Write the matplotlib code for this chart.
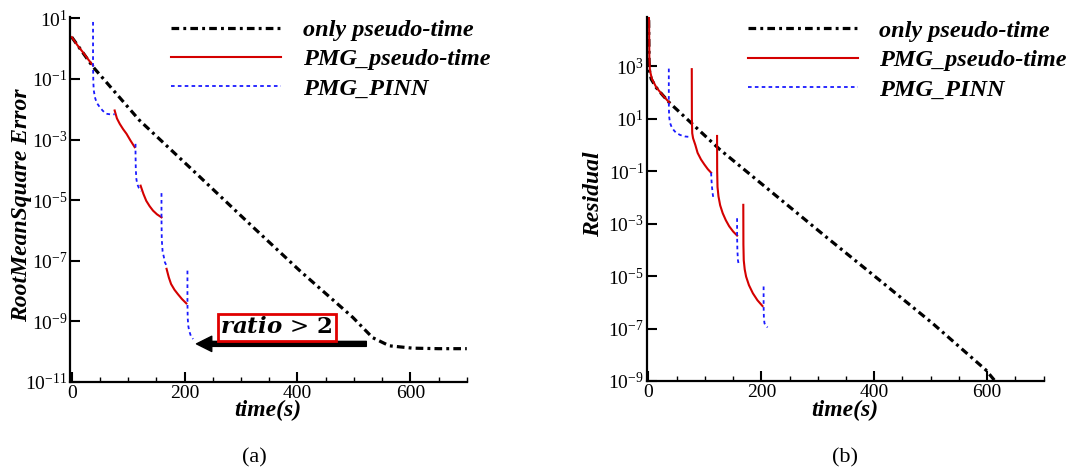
import matplotlib
matplotlib.use('Agg')
import matplotlib.pyplot as plt
import numpy as np
from matplotlib.ticker import FixedLocator, MultipleLocator, NullLocator, LogFormatterSciNotation

plt.rcParams['font.family'] = ['Liberation Serif', 'DejaVu Serif']
plt.rcParams['mathtext.fontset'] = 'stix'

nan = np.nan

# (a) RootMeanSquare Error
t_only_a = [0, 37.7, 120, 215, 309, 404, 498, 533, 563, 604, 650, 700]
e_only_a = [2.4, 0.25, 4.3e-3, 9.5e-5, 2.1e-6, 4.7e-8, 1.35e-9, 2.9e-10, 1.55e-10, 1.3e-10, 1.25e-10, 1.25e-10]

t_pmg_a = [0, 10, 20, 30, 37.7, nan,
           76, 80, 85, 91, 97, 104, 111.5, nan,
           122, 127, 132, 138, 144, 151, 159, nan,
           168, 172, 176, 182, 188, 195, 203]
e_pmg_a = [2.4, 1.3, 0.75, 0.42, 0.28, nan,
           9.1e-3, 5.0e-3, 3.3e-3, 2.2e-3, 1.55e-3, 9.3e-4, 5.6e-4, nan,
           3.0e-5, 1.6e-5, 9.5e-6, 6.3e-6, 4.5e-6, 3.4e-6, 2.7e-6, nan,
           5.4e-8, 2.8e-8, 1.7e-8, 1.1e-8, 7.9e-9, 5.5e-9, 3.9e-9]

t_pinn_a = [37.7, 37.7, 38.2, 39, 41, 44, 49.6, 55, 61, 68, 76, nan,
            113, 113, 113.5, 114.5, 116, 119, 123, nan,
            159, 159, 159.5, 161, 163.3, 165, 168, nan,
            205, 205, 205.5, 206.5, 208, 211, 215]
e_pinn_a = [7.6, 0.28, 0.08, 0.042, 0.025, 0.0166, 0.0117, 8.9e-3, 7.1e-3, 6.8e-3, 6.8e-3, nan,
            7.2e-4, 3.2e-4, 1e-4, 5e-5, 3.4e-5, 2.5e-5, 2.0e-5, nan,
            1.7e-5, 2.5e-6, 5e-7, 2e-7, 1.3e-7, 8.9e-8, 6.8e-8, nan,
            4.7e-8, 3.9e-9, 1.26e-9, 7.1e-10, 4.9e-10, 3.3e-10, 2.6e-10]

# (b) Residual
t_only_b = [0, 0.5, 1, 2, 5, 13.6, 25, 37, 126, 220, 314, 409, 503, 598, 620]
r_only_b = [3e5, 1.6e4, 1.6e3, 630, 320, 155, 80, 41, 0.68, 0.0148, 3.2e-4, 7.1e-6, 1.6e-7, 2.6e-9, 7e-10]

t_pmg_b = [0, 1, 1.5, 2.5, 6, 14, 25, 37, nan,
           76.7, 76.9, 77.5, 79, 83, 87, 93, 99, 105, 111, nan,
           121.5, 121.7, 122.3, 124, 127, 131.5, 137, 143, 150, 157, nan,
           168, 168.2, 168.8, 170.5, 173, 178, 185, 193, 202]
r_pmg_b = [3e5, 5e4, 2e3, 700, 330, 155, 80, 41, nan,
           776, 10, 2.8, 1.8, 1.0, 0.5, 0.28, 0.18, 0.12, 0.087, nan,
           2.2, 0.1, 0.025, 0.011, 5e-3, 2.5e-3, 1.35e-3, 7.9e-4, 5e-4, 3.5e-4, nan,
           5.2e-3, 1.6e-4, 4e-5, 1.8e-5, 9.5e-6, 4.5e-6, 2.2e-6, 1.2e-6, 7.2e-7]

t_pinn_b = [36, 36, 36.5, 38, 41, 45, 49, 56, 65, 75.5, nan,
            111, 111.5, 112.5, 114, 115, nan,
            157, 157, 157.5, 158.5, 160, nan,
            204, 204, 204.5, 205.5, 207, 211]
r_pinn_b = [813, 40, 12.6, 7.1, 4.8, 3.6, 2.9, 2.4, 2.1, 2.0, nan,
            0.087, 0.05, 0.025, 0.0126, 9.5e-3, nan,
            1.6e-3, 3.5e-4, 1e-4, 4e-5, 2.7e-5, nan,
            4e-6, 7.2e-7, 2.5e-7, 1.6e-7, 1.35e-7, 1.1e-7]

labels = ['only pseudo-time', 'PMG_pseudo-time', 'PMG_PINN']
yticks_a = [1e1, 1e-1, 1e-3, 1e-5, 1e-7, 1e-9, 1e-11]
yticks_b = [1e3, 1e1, 1e-1, 1e-3, 1e-5, 1e-7, 1e-9]

fig = plt.figure(figsize=(10.78, 4.75), dpi=100)
ax1 = fig.add_axes([0.065, 0.196, 0.368, 0.768])
ax2 = fig.add_axes([0.600, 0.198, 0.368, 0.766])

lab_font = dict(family='Liberation Serif', fontweight='bold', fontstyle='italic', fontsize=17)


def draw(ax, t0, y0, t1, y1, t2, y2, yticks, ylim, leg_anchor):
    ax.plot(t0, y0, color='black', lw=2.3, linestyle=(0, (2.4, 1.3, 0.9, 1.3)), label=labels[0])
    ax.plot(t1, y1, color='#d40000', lw=1.5, label=labels[1])
    ax.plot(t2, y2, color='#1a1aff', lw=1.3, linestyle=(0, (2.0, 1.8)), label=labels[2])
    ax.set_yscale('log')
    ax.set_xlim(-3, 700)
    ax.set_ylim(*ylim)
    ax.yaxis.set_major_locator(FixedLocator(yticks))
    ax.yaxis.set_major_formatter(LogFormatterSciNotation())
    ax.yaxis.set_minor_locator(NullLocator())
    ax.xaxis.set_major_locator(MultipleLocator(200))
    ax.xaxis.set_minor_locator(MultipleLocator(50))
    for s in ['top', 'right']:
        ax.spines[s].set_visible(False)
    for s in ['left', 'bottom']:
        ax.spines[s].set_linewidth(1.6)
    ax.tick_params(which='major', direction='in', length=7, width=1.5, labelsize=14, pad=2)
    ax.tick_params(which='minor', direction='in', length=3.5, width=1.0)
    ax.patch.set_alpha(0)
    leg = ax.legend(loc='upper left', bbox_to_anchor=leg_anchor, bbox_transform=fig.transFigure,
                    frameon=False, borderpad=0, borderaxespad=0, handlelength=4.5,
                    handletextpad=0.9, labelspacing=0.3,
                    prop=dict(family='Liberation Serif', weight='bold', style='italic', size=17.5))
    return leg


draw(ax1, t_only_a, e_only_a, t_pmg_a, e_pmg_a, t_pinn_a, e_pinn_a,
     yticks_a, (1e-11, 1.1e1), (0.159, 0.960))
draw(ax2, t_only_b, r_only_b, t_pmg_b, r_pmg_b, t_pinn_b, r_pinn_b,
     yticks_b, (1e-9, 7.5e4), (0.694, 0.958))

# annotation on (a)
ax1.annotate('', xy=(221, 1.8e-10), xytext=(522, 1.8e-10),
             arrowprops=dict(facecolor='black', edgecolor='black', width=3.6,
                             headwidth=11, headlength=11, shrink=0))
ax1.text(363, 6.2e-10, r'$\mathbfit{ratio}\,>\,\mathbf{2}$', fontsize=16.5, ha='center', va='center',
         math_fontfamily='dejavuserif',
         bbox=dict(boxstyle='square,pad=0.12', fc='white', ec='#e00000', lw=2))

fig.text(0.0204, 0.568, 'RootMeanSquare Error', rotation=90, ha='center', va='center', **lab_font)
fig.text(0.551, 0.592, 'Residual', rotation=90, ha='center', va='center', **lab_font)
fig.text(0.2486, 0.136, 'time(s)', ha='center', va='center', **lab_font)
fig.text(0.784, 0.136, 'time(s)', ha='center', va='center', **lab_font)

fig.text(0.2356, 0.036, '(a)', ha='center', va='center', family='Liberation Serif', fontsize=16)
fig.text(0.784, 0.036, '(b)', ha='center', va='center', family='Liberation Serif', fontsize=16)

fig.savefig('out.png', dpi=100)
